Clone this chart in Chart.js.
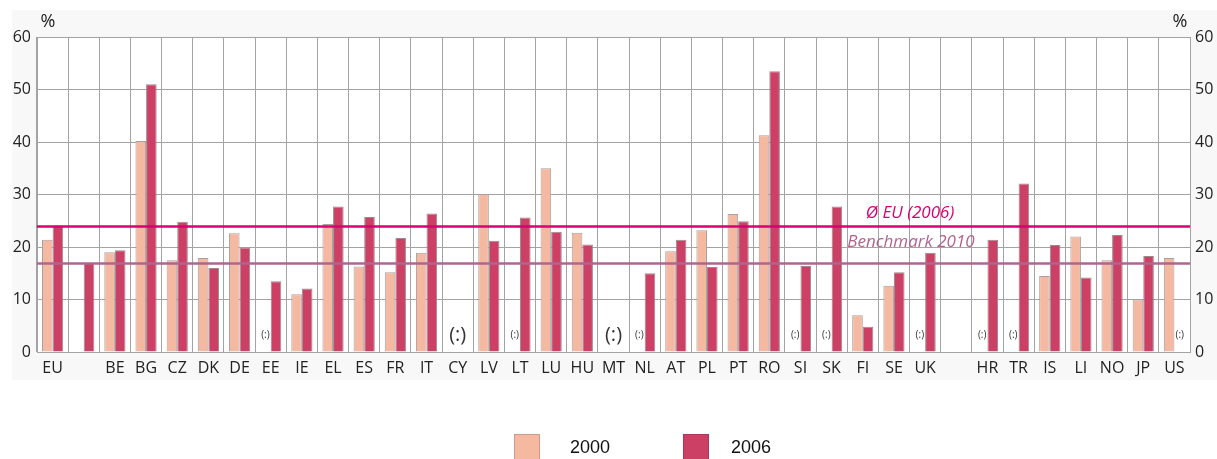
<!DOCTYPE html>
<html>
<head>
<meta charset="utf-8">
<script src="https://cdn.jsdelivr.net/npm/chart.js@4/dist/chart.umd.min.js"></script>
<style>
  html, body { margin: 0; padding: 0; background: #fff; }
  #wrap { width: 1217px; height: 459px; position: relative; }
</style>
</head>
<body>
<div id="wrap"><canvas id="chart" width="1217" height="459"></canvas></div>
<script>
const CATEGORIES = ["EU", "", "BE", "BG", "CZ", "DK", "DE", "EE", "IE", "EL", "ES", "FR", "IT", "CY",
  "LV", "LT", "LU", "HU", "MT", "NL", "AT", "PL", "PT", "RO", "SI", "SK", "FI", "SE", "UK", "",
  "HR", "TR", "IS", "LI", "NO", "JP", "US"];

// null = not available, shown as "(:)"
const VALUES_2000 = [21.4, null, 19.0, 40.2, 17.5, 17.9, 22.6, null, 11.0, 24.4, 16.3, 15.2, 18.9, null,
  30.1, null, 35.0, 22.7, null, null, 19.2, 23.2, 26.3, 41.3, null, null, 7.0, 12.6, null, null,
  null, null, 14.5, 22.0, 17.5, 10.0, 17.9];
const VALUES_2006 = [24.1, 17.0, 19.4, 51.0, 24.8, 16.0, 19.9, 13.5, 12.1, 27.7, 25.7, 21.7, 26.4, null,
  21.2, 25.6, 22.9, 20.5, null, 15.0, 21.4, 16.2, 24.9, 53.5, 16.4, 27.7, 4.8, 15.2, 18.9, null,
  21.4, 32.1, 20.4, 14.2, 22.3, 18.3, null];

// categories that are blank spacers (no "(:)" marker)
const SPACERS = [1, 29];
const EU_AVG_2006 = 24;
const BENCHMARK_2010 = 17;
const Y_TICKS = [0, 10, 20, 30, 40, 50, 60];

const COLOR_2000 = "#f5b9a2";
const COLOR_2006 = "#cc4065";
const COLOR_EU = "#d8006f";
const COLOR_BENCH = "#b0648f";
const GRID = "#a3a3a3";
const TICK_FONT = { family: "'Open Sans', sans-serif", size: 16 };

const overlay = {
  id: "overlay",
  beforeDraw(chart) {
    const { ctx, chartArea: a } = chart;
    ctx.save();
    ctx.fillStyle = "#f8f8f8";
    ctx.fillRect(12, 10, 1205, 370);
    ctx.fillStyle = "#ffffff";
    ctx.fillRect(a.left, a.top, a.right - a.left, a.bottom - a.top);
    ctx.restore();
  },
  afterDatasetsDraw(chart) {
    const { ctx, chartArea: a, scales } = chart;
    const y = scales.y;
    ctx.save();

    // reference lines
    const refs = [[BENCHMARK_2010, COLOR_BENCH], [EU_AVG_2006, COLOR_EU]];
    for (const [v, c] of refs) {
      const py = Math.round(y.getPixelForValue(v)) + 0.5;
      ctx.strokeStyle = c;
      ctx.lineWidth = 2.5;
      ctx.beginPath();
      ctx.moveTo(a.left, py);
      ctx.lineTo(a.right, py);
      ctx.stroke();
    }
    ctx.font = "italic 17px 'Open Sans', sans-serif";
    ctx.textBaseline = "middle";
    ctx.textAlign = "center";
    ctx.fillStyle = COLOR_EU;
    ctx.fillText("Ø EU (2006)", 910, y.getPixelForValue(EU_AVG_2006) - 13);
    ctx.fillStyle = COLOR_BENCH;
    ctx.fillText("Benchmark 2010", 911, y.getPixelForValue(BENCHMARK_2010) - 21);

    // "(:)" markers for missing data
    const m0 = chart.getDatasetMeta(0).data;
    const m1 = chart.getDatasetMeta(1).data;
    const py = y.getPixelForValue(0) - 17;
    ctx.fillStyle = "#333";
    CATEGORIES.forEach((cat, i) => {
      if (SPACERS.includes(i)) return;
      const a0 = VALUES_2000[i] == null, a1 = VALUES_2006[i] == null;
      if (a0 && a1) {
        ctx.font = "20px 'Open Sans', sans-serif";
        ctx.fillText("(:)", scales.x.getPixelForValue(i), py);
      } else if (a0 || a1) {
        ctx.font = "10px 'Open Sans', sans-serif";
        const x = a0 ? m0[i].x : m1[i].x;
        ctx.fillText("(:)", x, py);
      }
    });

    // unit labels
    ctx.font = "18px 'Open Sans', sans-serif";
    ctx.fillStyle = "#222";
    ctx.fillText("%", 48, 22);
    ctx.fillText("%", 1180, 22);

    // legend
    const items = [["2000", COLOR_2000, "#d09a8a", 514, 570], ["2006", COLOR_2006, "#b03555", 683, 731]];
    ctx.font = "18px 'Liberation Sans', Arial, sans-serif";
    ctx.textAlign = "left";
    for (const [label, fill, border, bx, tx] of items) {
      ctx.fillStyle = fill;
      ctx.fillRect(bx, 434, 26, 25);
      ctx.strokeStyle = border;
      ctx.lineWidth = 1;
      ctx.strokeRect(bx + 0.5, 434.5, 25, 25);
      ctx.fillStyle = "#111";
      ctx.fillText(label, tx, 448);
    }
    ctx.restore();
  },
};

new Chart(document.getElementById("chart"), {
  type: "bar",
  data: {
    labels: CATEGORIES,
    datasets: [
      { label: "2000", data: VALUES_2000, backgroundColor: COLOR_2000, borderColor: "#a8a0a0", borderWidth: 1 },
      { label: "2006", data: VALUES_2006, backgroundColor: COLOR_2006, borderColor: "#9a8a8e", borderWidth: 1 },
    ],
  },
  options: {
    responsive: false,
    animation: false,
    categoryPercentage: 0.68,
    barPercentage: 1.0,
    layout: { padding: { top: 37, left: 0, right: 0, bottom: 0 } },
    plugins: { legend: { display: false }, tooltip: { enabled: false } },
    scales: {
      x: {
        grid: { color: GRID, lineWidth: 1, offset: true, drawTicks: false },
        border: { color: GRID },
        ticks: { color: "#222", font: TICK_FONT, autoSkip: false, maxRotation: 0, padding: 7 },
        afterFit: (s) => { s.height = 107; },
      },
      y: {
        position: "left",
        min: 0, max: 60,
        afterBuildTicks: (s) => { s.ticks = Y_TICKS.map((v) => ({ value: v })); },
        grid: { color: GRID, lineWidth: 1, drawTicks: false },
        border: { color: GRID },
        ticks: { color: "#222", font: TICK_FONT, padding: 6 },
        afterFit: (s) => { s.width = 37; },
      },
      y2: {
        position: "right",
        min: 0, max: 60,
        afterBuildTicks: (s) => { s.ticks = Y_TICKS.map((v) => ({ value: v })); },
        grid: { drawOnChartArea: false, drawTicks: false },
        border: { color: GRID },
        ticks: { color: "#222", font: TICK_FONT, padding: 5 },
        afterFit: (s) => { s.width = 27; },
      },
    },
  },
  plugins: [overlay],
});
</script>
</body>
</html>
